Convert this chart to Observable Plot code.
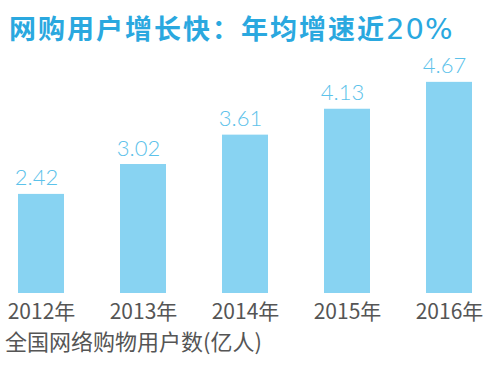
<!DOCTYPE html>
<html><head><meta charset="utf-8">
<script src="https://cdn.jsdelivr.net/npm/d3@7"></script>
<script src="https://cdn.jsdelivr.net/npm/@observablehq/plot@0.6"></script>
<style>
html,body{margin:0;padding:0;background:#fff;width:502px;height:367px;overflow:hidden}
#title{height:50px;box-sizing:border-box;padding:11px 0 0 9px;font:700 27px "Noto Sans CJK SC",sans-serif;letter-spacing:2px;color:#2aa8df;line-height:34px;white-space:nowrap}
#title .num{font:400 29px "DejaVu Sans",sans-serif;letter-spacing:1px}
#caption{font:400 22px "Noto Sans CJK SC",sans-serif;color:#555;padding-left:5px;line-height:24px;white-space:nowrap}
svg{display:block}
</style></head><body>
<div id="title">网购用户增长快：年均增速近<span class="num">20%</span></div>
<div id="chart"></div>
<div id="caption">全国网络购物用户数(亿人)</div>
<script>
const years = ["2012年","2013年","2014年","2015年","2016年"];
const users = [2.42, 3.02, 3.61, 4.13, 4.67];
const labels = ["2.42","3.02","3.61","4.13","4.67"];
const data = years.map((y,i)=>({year:y, value:users[i], label:labels[i]}));
const chart = Plot.plot({
  width: 502, height: 278,
  marginLeft: 7, marginRight: 19, marginTop: 20, marginBottom: 35,
  x: {domain: years, paddingInner: 0.55, paddingOuter: 0.1, label: null},
  y: {domain: [0.43, 4.908], clamp: true, axis: null},
  style: {fontFamily: "'Noto Sans CJK SC', sans-serif"},
  marks: [
    Plot.barY(data, {x: "year", y: "value", fill: "#88d3f2"}),
    Plot.text(data, {x: "year", y: "value", text: "label", dx: -5, dy: -16, fontSize: 22, fill: "#5cc2ea", fontWeight: 300, fontFamily: "Lato, sans-serif"}),
    Plot.axisX({tickSize: 0, tickPadding: 11, fontSize: 21, color: "#555", label: null, fill: "#555"})
  ]
});
document.getElementById("chart").appendChild(chart);
</script>
</body></html>
